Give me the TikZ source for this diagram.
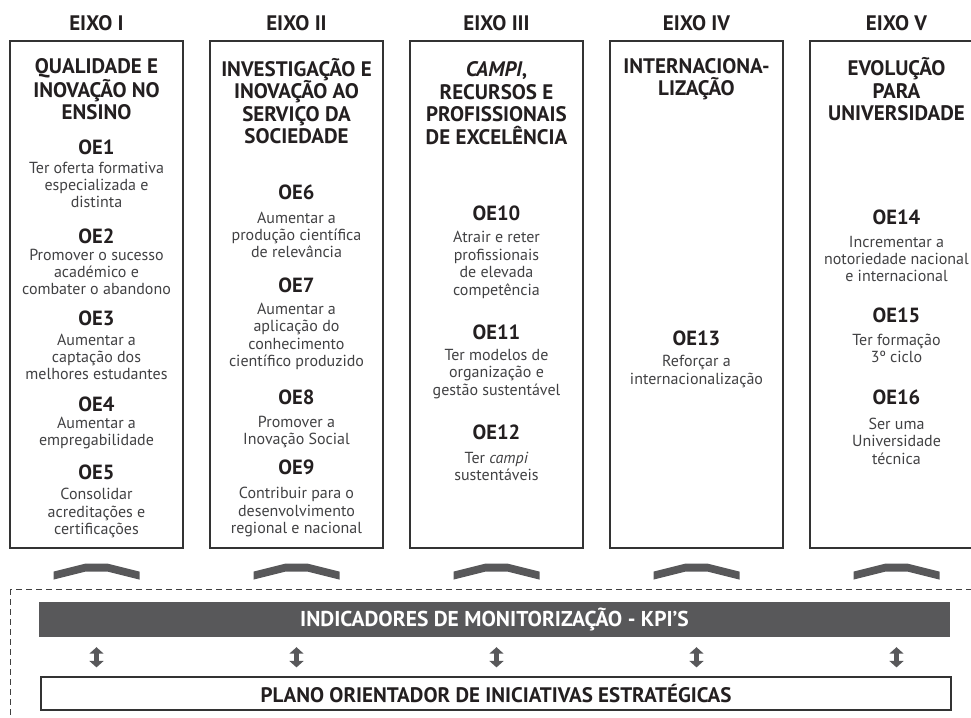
\documentclass[tikz,border=0pt]{standalone}
\usepackage{fontspec}
\setmainfont{PT Sans}
\usetikzlibrary{arrows.meta}
\usetikzlibrary{calc}

\definecolor{cinza}{HTML}{58585A}
\definecolor{tinta}{HTML}{231F20}
\definecolor{corpo}{HTML}{414143}

\tikzset{
  eixo/.style={draw=black!80, line width=1.2pt, minimum width=173pt, minimum height=507pt, inner sep=0pt},
  cabec/.style={font=\bfseries\fontsize{21}{24}\selectfont, text=tinta, inner sep=0pt},
  titulo/.style={font=\bfseries\fontsize{21}{22.5}\selectfont, text=tinta, align=center, inner sep=0pt},
  oe/.style={font=\bfseries\fontsize{20.5}{22}\selectfont, text=tinta, inner sep=0pt},
  texto/.style={font=\fontsize{16}{17.4}\selectfont, text=corpo, align=center, inner sep=0pt},
  seta/.style={cinza, line width=4.5pt, {Triangle[width=14pt,length=6.5pt]}-{Triangle[width=14pt,length=6.5pt]}, shorten <=10pt, shorten >=9pt},
  chevron/.pic={\fill[cinza] (-43,16) -- (-43,8) -- (-11,0) -- (11,0) -- (43,8) -- (43,16) -- (11,8) -- (-11,8) -- cycle;}
}

\begin{document}
\begin{tikzpicture}[x=1pt,y=-1pt]
    \useasboundingbox (0,0) rectangle (971,717);
    \clip (0,0) rectangle (971,717);

    % os cinco eixos
    \node[eixo] (e1) at (96.5,294.5) {};
    \node[eixo] (e2) at (296.5,294.5) {};
    \node[eixo] (e3) at (496.5,294.5) {};
    \node[eixo] (e4) at (696.5,294.5) {};
    \node[eixo] (e5) at (896.5,294.5) {};

    \node[cabec] (h1) at (96.5,23) {EIXO I};
    \node[cabec] (h2) at (296.5,23) {EIXO II};
    \node[cabec] (h3) at (496.5,23) {EIXO III};
    \node[cabec] (h4) at (696.5,23) {EIXO IV};
    \node[cabec] (h5) at (896.5,23) {EIXO V};

    % eixo I
    \node[titulo] (tit1) at (96.5,89.5) {QUALIDADE E\\INOVAÇÃO NO\\ENSINO};
    \node[oe] (oe1) at (96.5,147) {OE1};
    \node[texto] (oe1d) at (96.5,185) {Ter oferta formativa\\especializada e\\distinta};
    \node[oe] (oe2) at (96.5,236) {OE2};
    \node[texto] (oe2d) at (96.5,272) {Promover o sucesso\\académico e\\combater o abandono};
    \node[oe] (oe3) at (96.5,318) {OE3};
    \node[texto] (oe3d) at (96.5,357) {Aumentar a\\captação dos\\melhores estudantes};
    \node[oe] (oe4) at (96.5,404) {OE4};
    \node[texto] (oe4d) at (96.5,433) {Aumentar a\\empregabilidade};
    \node[oe] (oe5) at (96.5,472) {OE5};
    \node[texto] (oe5d) at (96.5,513) {Consolidar\\acreditações e\\certificações};

    % eixo II
    \node[titulo] (tit2) at (296.5,101) {INVESTIGAÇÃO E\\INOVAÇÃO AO\\SERVIÇO DA\\SOCIEDADE};
    \node[oe] (oe6) at (296.5,192) {OE6};
    \node[texto] (oe6d) at (296.5,235) {Aumentar a\\produção científica\\de relevância};
    \node[oe] (oe7) at (296.5,285) {OE7};
    \node[texto] (oe7d) at (296.5,336.5) {Aumentar a\\aplicação do\\conhecimento\\científico produzido};
    \node[oe] (oe8) at (296.5,397) {OE8};
    \node[texto] (oe8d) at (296.5,432) {Promover a\\Inovação Social};
    \node[oe] (oe9) at (296.5,467) {OE9};
    \node[texto] (oe9d) at (296.5,512) {Contribuir para o\\desenvolvimento\\regional e nacional};

    % eixo III
    \node[titulo] (tit3) at (496.5,103) {\textit{CAMPI},\\RECURSOS E\\PROFISSIONAIS\\DE EXCELÊNCIA};
    \node[oe] (oe10) at (496.5,213) {OE10};
    \node[texto] (oe10d) at (496.5,265) {Atrair e reter\\profissionais\\de elevada\\competência};
    \node[oe] (oe11) at (496.5,332) {OE11};
    \node[texto] (oe11d) at (496.5,374) {Ter modelos de\\organização e\\gestão sustentável};
    \node[oe] (oe12) at (496.5,432) {OE12};
    \node[texto] (oe12d) at (496.5,466.5) {Ter \textit{campi}\\sustentáveis};

    % eixo IV
    \node[titulo] (tit4) at (696.5,79) {INTERNACIONA-\\LIZAÇÃO};
    \node[oe] (oe13) at (696.5,338) {OE13};
    \node[texto] (oe13d) at (696.5,371.5) {Reforçar a\\internacionalização};

    % eixo V
    \node[titulo] (tit5) at (896.5,89.5) {EVOLUÇÃO\\PARA\\UNIVERSIDADE};
    \node[oe] (oe14) at (896.5,217) {OE14};
    \node[texto] (oe14d) at (896.5,259) {Incrementar a\\notoriedade nacional\\e internacional};
    \node[oe] (oe15) at (896.5,315) {OE15};
    \node[texto] (oe15d) at (896.5,348.5) {Ter formação\\3º ciclo};
    \node[oe] (oe16) at (896.5,397) {OE16};
    \node[texto] (oe16d) at (896.5,441) {Ser uma\\Universidade\\técnica};

    \pic at ($(e1.south)+(0,15)$) {chevron};
    \pic at ($(e2.south)+(0,15)$) {chevron};
    \pic at ($(e3.south)+(0,15)$) {chevron};
    \pic at ($(e4.south)+(0,15)$) {chevron};
    \pic at ($(e5.south)+(0,15)$) {chevron};

    \draw[black!75, line width=0.9pt, dash pattern=on 6pt off 4pt] (10,589) rectangle (995,745);

    \node[fill=cinza, minimum width=911pt, minimum height=35pt, inner sep=0pt, text=white, font=\bfseries\fontsize{21.5}{23}\selectfont] (kpi) at (494.5,619.5) {INDICADORES DE MONITORIZAÇÃO - KPI'S};
    \node[draw=black!80, line width=1.2pt, minimum width=910pt, minimum height=33pt, inner sep=0pt, text=tinta, font=\bfseries\fontsize{21}{23}\selectfont] (plano) at (496,693.5) {PLANO ORIENTADOR DE INICIATIVAS ESTRATÉGICAS};

    \draw[seta] (kpi.south -| e1.south) -- (plano.north -| e1.south);
    \draw[seta] (kpi.south -| e2.south) -- (plano.north -| e2.south);
    \draw[seta] (kpi.south -| e3.south) -- (plano.north -| e3.south);
    \draw[seta] (kpi.south -| e4.south) -- (plano.north -| e4.south);
    \draw[seta] (kpi.south -| e5.south) -- (plano.north -| e5.south);
\end{tikzpicture}
\end{document}
